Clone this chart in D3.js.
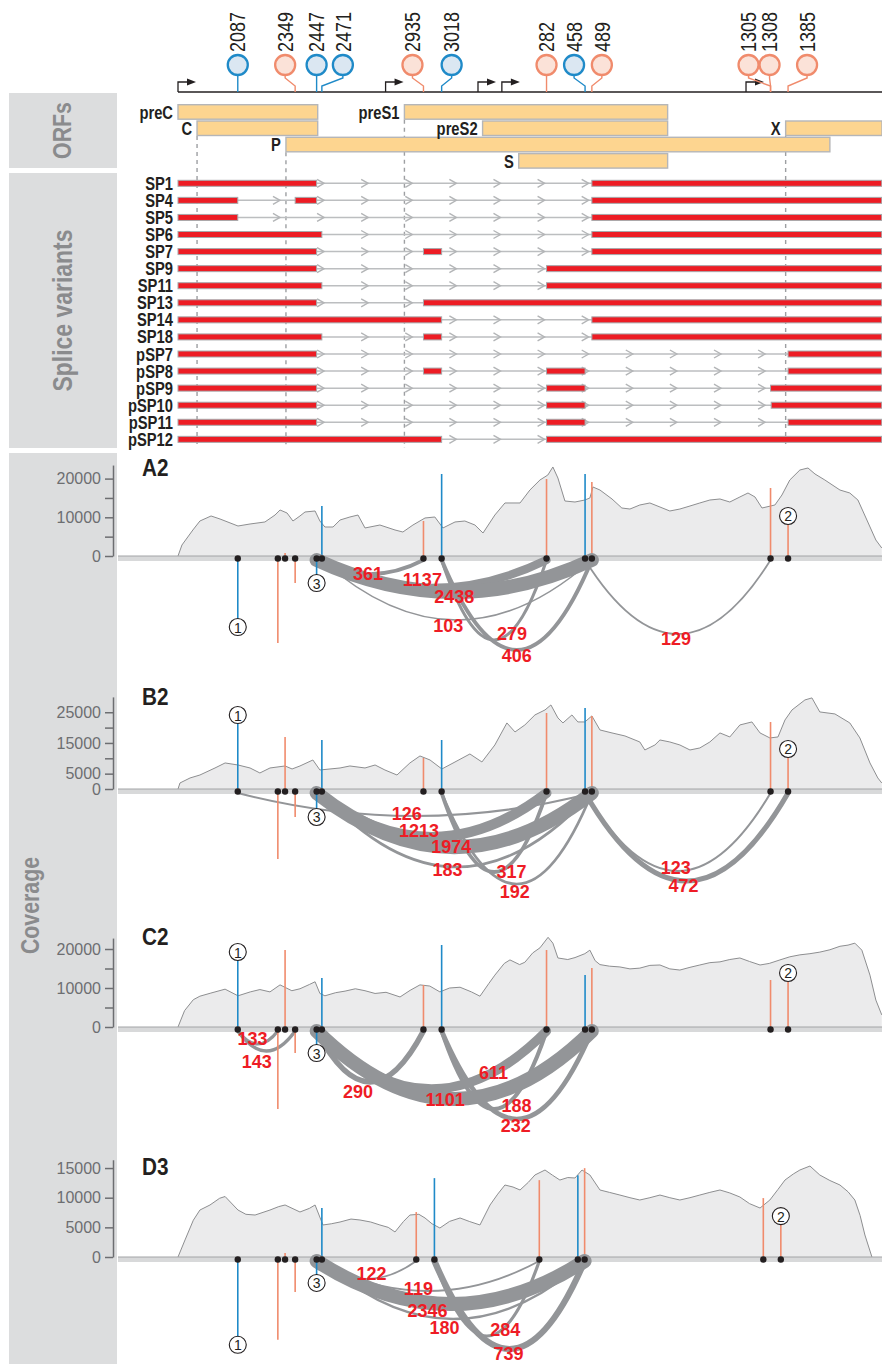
<!DOCTYPE html>
<html>
<head>
<meta charset="utf-8">
<title>HBV splice variants and coverage</title>
<script src="https://d3js.org/d3.v7.min.js"></script>
<style>
  body { margin: 0; background: #fff; }
  svg { display: block; font-family: "Liberation Sans", Arial, Helvetica, sans-serif; }
</style>
</head>
<body>
<svg id="fig" width="882" height="1364"></svg>
<script>
// ---- data ----
// genome numbering; the map starts at the preC start
const genomeStart = 1814;
const genomeLen = 3215;
const genomeLenD = 3182; // genotype D sample (33 nt shorter in preS1)

// splice sites on the top track
const siteLabels = ["2087", "2349", "2447", "2471", "2935", "3018", "282", "458", "489", "1305", "1308", "1385"];
const sitePos = [2087, 2349, 2447, 2471, 2935, 3018, 282, 458, 489, 1305, 1305, 1385];
const siteType = ["d", "a", "d", "d", "a", "d", "a", "d", "a", "a", "a", "a"];
const promoters = [1814, 2762, 3184, 78, 1193];

// ORFs
const orfNames = ["preC", "C", "P", "preS1", "preS2", "S", "X"];
const orfStart = [1814, 1901, 2307, 2848, 3205, 155, 1374];
const orfEnd = [2452, 2452, 1576, 835, 835, 835, 1838];
const orfRow = [0, 1, 2, 0, 1, 3, 1];
const orfGuide = [false, true, true, true, false, false, true];

// splice variants, exons as [start, end]
const variantNames = ["SP1", "SP4", "SP5", "SP6", "SP7", "SP9", "SP11", "SP13", "SP14", "SP18",
  "pSP7", "pSP8", "pSP9", "pSP10", "pSP11", "pSP12"];
const variantExons = [
  [[1814, 2447], [489, 1813]],
  [[1814, 2087], [2349, 2447], [489, 1813]],
  [[1814, 2087], [489, 1813]],
  [[1814, 2471], [489, 1813]],
  [[1814, 2447], [2935, 3018], [489, 1813]],
  [[1814, 2447], [282, 1813]],
  [[1814, 2471], [282, 1813]],
  [[1814, 2447], [2935, 1813]],
  [[1814, 3018], [489, 1813]],
  [[1814, 2471], [2935, 3018], [489, 1813]],
  [[1814, 2447], [1385, 1813]],
  [[1814, 2447], [2935, 3018], [282, 458], [1385, 1813]],
  [[1814, 2447], [282, 458], [1305, 1813]],
  [[1814, 2447], [282, 458], [1308, 1813]],
  [[1814, 2447], [282, 458], [1385, 1813]],
  [[1814, 3018], [282, 1813]]
];

// coverage panels
const panelNames = ["A2", "B2", "C2", "D3"];
const panelTickLabels = [[0, 10000, 20000], [0, 5000, 15000, 25000], [0, 10000, 20000], [0, 5000, 10000, 15000]];
const panelMax = [23500, 30000, 22800, 16400];

// splice sites drawn on the coverage tracks
const trackSites = [2087, 2270, 2303, 2349, 2447, 2471, 2935, 3018, 282, 458, 489, 1305, 1385];
const trackSitesD = [2087, 2270, 2303, 2349, 2447, 2471, 2902, 2985, 282, 458, 489, 1305, 1385];
const trackType = ["d", "a", "a", "a", "d", "d", "a", "d", "a", "d", "a", "a", "a"];
const trackCircle = [1, 0, 0, 0, 3, 0, 0, 0, 0, 0, 0, 0, 2];

// site usage per track (negative = drawn below the axis)
const marksA2 = [-18350, -22480, 800, -6980, -6980, 12920, 9040, 21190, 19900, 21190, 19120, 17570, 10340];
const marksB2 = [24100, -22800, 16940, -9120, -9120, 15960, 10100, 15960, 24760, 26380, 23780, 21820, 13030];
const marksC2 = [19230, -21030, 19740, -6670, -6670, 12560, 10770, 21030, 19740, 13330, 15130, 12050, 13850];
const marksD3 = [-14810, -13970, 670, -5890, -4380, 8250, 7580, 13300, 12960, 13800, 14980, 9930, 6900];

// junction reads [donor, acceptor, reads]
const juncA2 = [[2447, 2935, 361], [2447, 282, 1137], [2447, 489, 2438], [2471, 489, 103], [3018, 282, 279], [3018, 489, 406], [458, 1305, 129]];
const juncB2 = [[2087, 489, 126], [2447, 282, 1213], [2447, 489, 1974], [2471, 489, 183], [3018, 282, 317], [3018, 489, 192], [458, 1305, 123], [458, 1385, 472]];
const juncC2 = [[2087, 2270, 133], [2087, 2349, 143], [2447, 2935, 290], [2447, 282, 611], [2447, 489, 1101], [3018, 282, 188], [3018, 489, 232]];
const juncD3 = [[2447, 2902, 122], [2447, 282, 119], [2447, 489, 2346], [2471, 489, 180], [2985, 282, 284], [2985, 489, 739]];

// read coverage [bp from map start, reads]
const covA2 = [[0, 0], [18, 2840], [68, 6720], [100, 9040], [151, 10340], [192, 9560], [274, 7750], [329, 8270], [397, 8790], [443, 10590], [466, 11890], [498, 11110], [525, 9040], [557, 10340], [580, 11370], [626, 11630], [648, 9040], [671, 7490], [708, 7490], [740, 9300], [785, 10080], [822, 10590], [854, 7240], [922, 8010], [991, 6720], [1027, 6200], [1073, 8010], [1128, 9820], [1173, 10080], [1210, 7240], [1265, 8790], [1310, 9040], [1356, 8010], [1393, 5940], [1447, 10590], [1493, 13700], [1562, 13700], [1607, 17050], [1653, 19640], [1689, 20930], [1712, 23000], [1735, 20150], [1767, 14210], [1813, 13950], [1858, 14470], [1881, 14990], [1895, 17830], [1927, 17050], [1982, 14730], [2027, 12400], [2064, 12140], [2109, 13180], [2155, 13700], [2201, 12660], [2246, 11630], [2292, 12140], [2338, 12920], [2383, 13700], [2429, 14470], [2475, 14730], [2520, 13950], [2566, 15250], [2603, 16280], [2635, 15250], [2667, 12400], [2726, 13180], [2758, 15760], [2794, 19640], [2840, 22220], [2877, 22740], [2909, 21190], [2954, 19640], [3023, 17050], [3068, 16280], [3105, 14470], [3146, 9300], [3187, 4130], [3214, 2070]];
const covB2 = [[0, 0], [9, 1960], [55, 3590], [100, 4560], [169, 6850], [215, 8480], [274, 7820], [329, 6850], [374, 5220], [420, 6850], [489, 7500], [521, 6520], [557, 7500], [616, 9450], [648, 6190], [694, 6520], [740, 6850], [785, 7500], [854, 6850], [900, 7820], [945, 6190], [1000, 4560], [1059, 8480], [1105, 10760], [1151, 9450], [1205, 6520], [1265, 8800], [1333, 11410], [1388, 8800], [1447, 14340], [1502, 21520], [1539, 18580], [1584, 20860], [1630, 24120], [1676, 25750], [1703, 27380], [1735, 23150], [1758, 21520], [1799, 24120], [1826, 21840], [1858, 21840], [1890, 23800], [1927, 19230], [1982, 18260], [2041, 17280], [2109, 15320], [2132, 12710], [2178, 14340], [2201, 15970], [2246, 15320], [2292, 14340], [2338, 12710], [2383, 13370], [2429, 15320], [2475, 18260], [2520, 16950], [2566, 20860], [2621, 21840], [2658, 18260], [2703, 16630], [2740, 16950], [2772, 22490], [2804, 25750], [2863, 29010], [2895, 29670], [2931, 25100], [3000, 24450], [3068, 21520], [3114, 16630], [3160, 8480], [3196, 3590], [3214, 1960]];
const covC2 = [[0, 0], [30, 4200], [70, 7000], [100, 7900], [150, 8700], [215, 9700], [274, 8000], [330, 9000], [374, 9600], [420, 9000], [466, 10800], [520, 9300], [557, 9800], [600, 10900], [626, 11600], [648, 8600], [671, 8000], [720, 8800], [763, 9200], [810, 9800], [854, 9300], [900, 8600], [950, 8900], [1014, 7700], [1060, 9400], [1105, 10800], [1150, 10500], [1196, 9000], [1240, 10000], [1288, 10200], [1340, 9000], [1379, 7900], [1420, 11200], [1447, 13300], [1490, 16300], [1516, 17200], [1560, 16000], [1584, 16600], [1620, 19000], [1653, 20300], [1690, 23000], [1712, 21500], [1735, 17700], [1780, 17300], [1813, 17800], [1858, 18800], [1881, 19700], [1905, 17000], [1927, 16000], [1970, 15600], [2018, 15400], [2064, 14900], [2109, 15100], [2155, 15800], [2201, 15900], [2246, 14900], [2292, 14600], [2338, 15300], [2383, 15900], [2429, 16500], [2475, 16700], [2520, 17300], [2566, 17700], [2610, 16800], [2658, 15900], [2700, 16300], [2749, 17200], [2794, 18000], [2840, 18500], [2886, 18800], [2931, 19200], [2977, 19800], [3023, 20700], [3060, 21000], [3091, 21500], [3123, 19700], [3160, 13300], [3187, 6900], [3214, 3100]];
const covD3 = [[0, 0], [32, 2870], [70, 6200], [100, 7920], [146, 8770], [190, 9900], [215, 10200], [274, 7920], [310, 7200], [352, 7080], [420, 7920], [460, 8500], [489, 8770], [557, 7590], [600, 8200], [626, 8770], [662, 5400], [700, 5600], [740, 5900], [790, 6400], [831, 6240], [880, 5900], [922, 5400], [960, 5000], [991, 4220], [1030, 6000], [1059, 7080], [1100, 7200], [1128, 6580], [1160, 5600], [1196, 4890], [1240, 6000], [1288, 6580], [1330, 6000], [1379, 5400], [1425, 8770], [1460, 10600], [1493, 12140], [1530, 11800], [1562, 11300], [1600, 12600], [1630, 13830], [1676, 14670], [1710, 13800], [1744, 12980], [1780, 13400], [1813, 13320], [1845, 14670], [1881, 13830], [1927, 11300], [1970, 10900], [2018, 10450], [2064, 10000], [2109, 9610], [2155, 10000], [2201, 10450], [2246, 10000], [2292, 9610], [2338, 10000], [2383, 10450], [2429, 10900], [2475, 11300], [2520, 10800], [2566, 10120], [2610, 9000], [2658, 8260], [2703, 9610], [2740, 11400], [2772, 12980], [2810, 14000], [2840, 14670], [2886, 15340], [2931, 13830], [2977, 12900], [3023, 12140], [3060, 11000], [3091, 9610], [3115, 7000], [3137, 3710], [3169, 0]];

// ---- layout ----
const blue = "#1f8ac8", blueFill = "#dbe7f2";
const orange = "#f08b6c", orangeFill = "#fbe2d8";
const exonRed = "#ed1c24", arcGrey = "#939598", axisGrey = "#6d6e71";
const narrow = 0.82;

// circle dodge on the top track (px from the stem)
const siteDodge = [0, -10, 0, 21, -11, 10, 0, -11, 10, -22, -1, 19];

const panelBase = [556, 789, 1027, 1257];
const panelPx = [3.87, 3.07, 3.9, 5.93]; // px per 1000 reads
const panelNameY = [468, 697, 937, 1167];
// arc depth (px) and label placement [t along arc, dy]
const arcDip = [
  [14, 28, 32, 60, 80, 90, 74],
  [23, 44, 54, 74, 79, 91, 78, 88],
  [13, 20, 51, 58, 68, 78, 88],
  [18, 30, 43, 58, 75, 88]
];
const arcLab = [
  [[.48, 0], [.46, -8], [.5, 5], [.468, 6], [.67, 3], [.5, 6], [.49, 5]],
  [[.477, -2], [.445, -5], [.489, 0], [.465, 3], [.667, 9], [.487, 8], [.489, -3], [.485, 5]],
  [[.37, -4], [.33, 13], [.387, 13], [.769, 1], [.467, 1], [.714, 11], [.493, 7]],
  [[.55, -5], [.457, -2], [.414, 8], [.467, 9], [.676, 3], [.493, 5]]
];

// ---- helpers ----
const svg = d3.select("#fig");
const x = d3.scaleLinear().domain([0, genomeLen]).range([178, 882]);
function lin(p, len) {
  len = len || genomeLen;
  return p >= genomeStart ? p - genomeStart : p + len - genomeStart;
}
function gx(p, len) { return x(lin(p, len)); }
function addText(g, str, px, py, o) {
  o = o || {};
  return g.append("text")
    .attr("transform", "translate(" + px + "," + py + ")" + (o.rot ? " rotate(" + o.rot + ")" : "") + " scale(" + (o.sx || 1) + ",1)")
    .attr("text-anchor", o.anchor || "start")
    .attr("dominant-baseline", "central")
    .style("font-size", o.size + "px")
    .style("font-weight", o.bold ? "bold" : "normal")
    .attr("fill", o.fill || "#231f20")
    .text(str);
}
function circled(g, cx, cy, n) {
  g.append("circle").attr("cx", cx).attr("cy", cy).attr("r", 8.5)
    .attr("fill", "#fff").attr("stroke", "#231f20").attr("stroke-width", 1.1);
  addText(g, n, cx, cy + 0.5, { size: 14, anchor: "middle" });
}

// ---- side panels ----
const side = svg.append("g");
[["ORFs", 93, 168, 62, 26], ["Splice variants", 173, 448, 62, 28], ["Coverage", 453, 1364, 30, 26]].forEach(function(p) {
  side.append("rect").attr("x", 9).attr("y", p[1]).attr("width", 108).attr("height", p[2] - p[1]).attr("fill", "#dcddde");
  addText(side, p[0], p[3], (p[1] + p[2]) / 2 + (p[0] == "Coverage" ? -3 : 0), { size: p[4], bold: true, rot: -90, anchor: "middle", sx: narrow, fill: "#8a8b8d" });
});

// ---- top site track ----
const siteG = svg.append("g");
siteG.append("line").attr("x1", 178).attr("x2", 882).attr("y1", 92).attr("y2", 92)
  .attr("stroke", "#231f20").attr("stroke-width", 1.5);
promoters.forEach(function(p) {
  const px = gx(p);
  siteG.append("path").attr("d", "M" + px + ",92V82H" + (px + 10))
    .attr("fill", "none").attr("stroke", "#231f20").attr("stroke-width", 1.3);
  siteG.append("path").attr("d", "M" + (px + 9) + ",78.5L" + (px + 18) + ",82L" + (px + 9) + ",85.5Z").attr("fill", "#231f20");
});
sitePos.forEach(function(p, i) {
  const sx = gx(p), cx = sx + siteDodge[i];
  const col = siteType[i] == "d" ? blue : orange;
  siteG.append("path").attr("d", "M" + cx + ",75V78L" + sx + ",86V92")
    .attr("fill", "none").attr("stroke", col).attr("stroke-width", 1.4);
  siteG.append("circle").attr("cx", cx).attr("cy", 65).attr("r", 10)
    .attr("fill", siteType[i] == "d" ? blueFill : orangeFill).attr("stroke", col).attr("stroke-width", 2.3);
  addText(siteG, siteLabels[i], cx, 52, { size: 22, rot: -90, sx: narrow });
});

// ---- ORFs ----
const orfG = svg.append("g");
const rowTop = function(r) { return 104.7 + 16.3 * r; };
orfNames.forEach(function(n, i) {
  const a = lin(orfStart[i]);
  if (orfGuide[i]) {
    orfG.append("line").attr("x1", x(a)).attr("x2", x(a)).attr("y1", rowTop(orfRow[i]) + 15).attr("y2", 448)
      .attr("stroke", "#9d9fa2").attr("stroke-width", 1.4).attr("stroke-dasharray", "4,4");
  }
});
orfNames.forEach(function(n, i) {
  const a = lin(orfStart[i]);
  let b = lin(orfEnd[i]);
  if (b < a) b = genomeLen;
  orfG.append("rect").attr("x", x(a)).attr("y", rowTop(orfRow[i])).attr("width", Math.min(x(b), 886) - x(a)).attr("height", 14.5)
    .attr("fill", "#fdd590").attr("stroke", "#b5b6b8").attr("stroke-width", 1.4);
  addText(orfG, n, x(a) - 5, rowTop(orfRow[i]) + 7.5, { size: 18, bold: true, anchor: "end", sx: narrow });
});

// ---- splice variants ----
const spG = svg.append("g");
const rowY = function(i) { return 183.3 + 17.07 * i; };
const chevrons = d3.range(452, genomeLen - 100, 201.4);
variantNames.forEach(function(n, i) {
  const y = rowY(i);
  const exons = variantExons[i].map(function(e) { return [x(lin(e[0])), Math.min(x(lin(e[1])), 886)]; });
  spG.append("line").attr("x1", 178).attr("x2", 882).attr("y1", y).attr("y2", y)
    .attr("stroke", "#bcbec0").attr("stroke-width", 1.5);
  chevrons.forEach(function(c) {
    const cx = x(c);
    const hidden = exons.some(function(e) { return cx >= e[0] - 3 && cx <= e[1]; });
    if (hidden) return;
    spG.append("path").attr("d", "M" + (cx - 4) + "," + (y - 4) + "L" + (cx + 3) + "," + y + "L" + (cx - 4) + "," + (y + 4))
      .attr("fill", "none").attr("stroke", "#b3b5b7").attr("stroke-width", 1.4);
  });
  exons.forEach(function(e) {
    spG.append("rect").attr("x", e[0]).attr("y", y - 3).attr("width", e[1] - e[0]).attr("height", 6)
      .attr("fill", exonRed).attr("stroke", "#a7a9ac").attr("stroke-width", 1);
  });
  addText(spG, n, 173, y, { size: 18, bold: true, anchor: "end", sx: narrow });
});

// ---- coverage panels ----
const covs = [covA2, covB2, covC2, covD3];
const marks = [marksA2, marksB2, marksC2, marksD3];
const juncs = [juncA2, juncB2, juncC2, juncD3];

panelNames.forEach(function(name, pi) {
  const g = svg.append("g");
  const base = panelBase[pi];
  const len = name == "D3" ? genomeLenD : genomeLen;
  const sites = name == "D3" ? trackSitesD : trackSites;
  const y = d3.scaleLinear().domain([0, panelMax[pi]]).range([base, base - panelMax[pi] * panelPx[pi] / 1000]);

  // axis
  const ax = d3.axisLeft(y).tickValues(d3.range(0, panelMax[pi] - 1000, 5000)).tickSize(8).tickSizeOuter(0)
    .tickFormat(function(v) { return panelTickLabels[pi].indexOf(v) >= 0 ? v : ""; });
  const axg = g.append("g").attr("transform", "translate(113,0)").call(ax);
  axg.selectAll("path, line").attr("stroke", axisGrey).attr("stroke-width", 1.5);
  axg.selectAll("text").attr("fill", axisGrey).style("font-size", "16px").attr("x", -12);

  addText(g, name, 142, panelNameY[pi], { size: 23, bold: true, sx: 0.9 });

  // coverage profile
  const area = d3.area().x(function(d) { return x(d[0]); }).y0(base).y1(function(d) { return y(d[1]); });
  g.append("path").datum(covs[pi]).attr("d", area).attr("fill", "#ebebec");
  g.append("path").datum(covs[pi]).attr("d", d3.line().x(function(d) { return x(d[0]); }).y(function(d) { return y(d[1]); }))
    .attr("fill", "none").attr("stroke", "#8d8e90").attr("stroke-width", 1);

  // site usage above the axis
  marks[pi].forEach(function(v, i) {
    if (v <= 0) return;
    g.append("line").attr("x1", gx(sites[i], len)).attr("x2", gx(sites[i], len)).attr("y1", base).attr("y2", y(v))
      .attr("stroke", trackType[i] == "d" ? blue : orange).attr("stroke-width", 1.6);
  });

  // axis band
  g.append("rect").attr("x", 118).attr("y", base).attr("width", 764).attr("height", 5).attr("fill", "#d8d9da");
  g.append("line").attr("x1", 118).attr("x2", 882).attr("y1", base).attr("y2", base).attr("stroke", "#a2a4a6").attr("stroke-width", 1);

  // junction arcs
  const yb = base + 4;
  const maxReads = d3.max(juncs[pi], function(d) { return d[2]; });
  const w = d3.scalePow().exponent(0.7).domain([0, maxReads]).range([0, 14]);
  const arcs = juncs[pi].map(function(j, k) {
    return { x1: gx(j[0], len), x2: gx(j[1], len), n: j[2], dip: arcDip[pi][k], lab: arcLab[pi][k] };
  });
  arcs.slice().sort(function(a, b) { return a.n - b.n; }).forEach(function(a) {
    g.append("path")
      .attr("d", "M" + a.x1 + "," + yb + "Q" + ((a.x1 + a.x2) / 2) + "," + (yb + 2 * a.dip) + " " + a.x2 + "," + yb)
      .attr("fill", "none").attr("stroke", arcGrey).attr("stroke-width", Math.max(1.3, w(a.n))).attr("stroke-linecap", "round");
  });

  // site usage below the axis
  marks[pi].forEach(function(v, i) {
    if (v >= 0) return;
    g.append("line").attr("x1", gx(sites[i], len)).attr("x2", gx(sites[i], len)).attr("y1", base + 3).attr("y2", y(v))
      .attr("stroke", trackType[i] == "d" ? blue : orange).attr("stroke-width", 1.6);
  });

  // site dots
  sites.forEach(function(s) {
    g.append("circle").attr("cx", gx(s, len)).attr("cy", base + 2.5).attr("r", 3.2).attr("fill", "#231f20");
  });

  // circled site numbers
  marks[pi].forEach(function(v, i) {
    if (trackCircle[i]) circled(g, gx(sites[i], len), y(v), String(trackCircle[i]));
  });

  // read counts
  arcs.forEach(function(a) {
    const t = a.lab[0];
    const lx = a.x1 + (a.x2 - a.x1) * t;
    const ly = yb + 4 * a.dip * t * (1 - t) + a.lab[1];
    addText(g, a.n, lx, ly, { size: 18, bold: true, anchor: "middle", fill: "#ee1c25" });
  });
});
</script>
</body>
</html>
